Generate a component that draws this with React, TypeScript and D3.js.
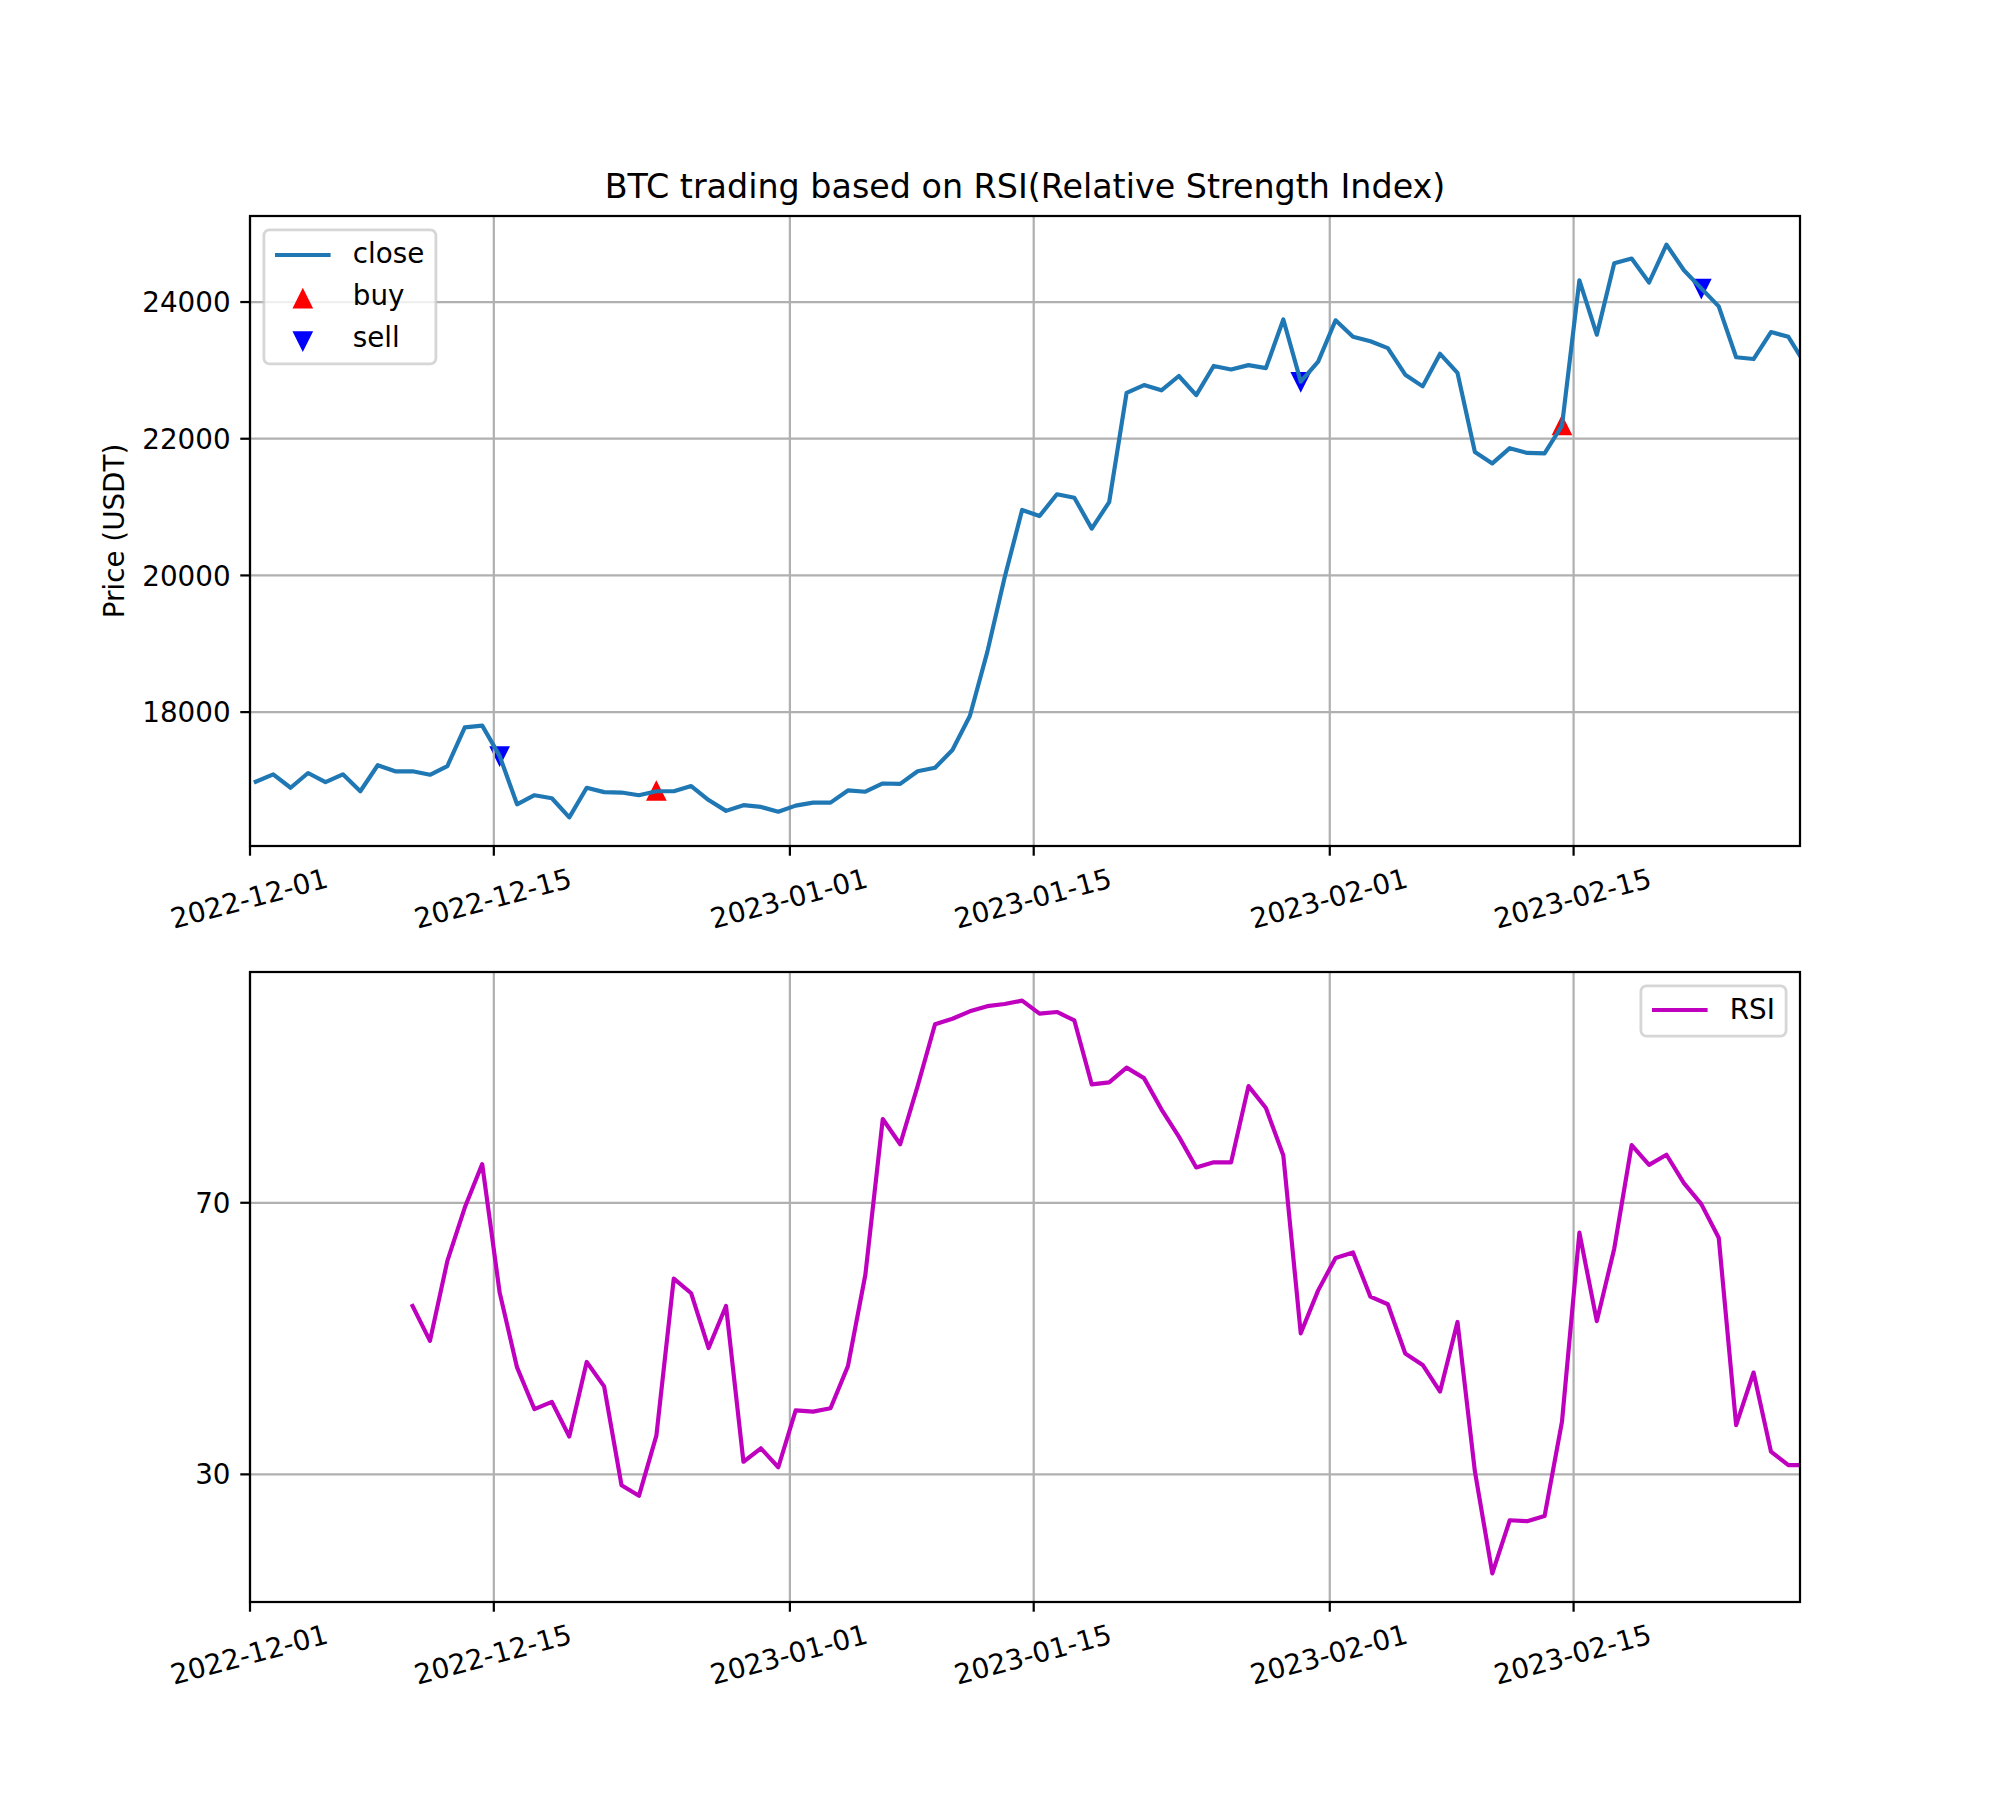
import React from 'react';
import * as d3 from 'd3';

// ---------- data ----------
const firstCandle = '2022-12-01T08:00:00Z';
const closeValues = [
  16982, 17090, 16893, 17109, 16975, 17090, 16842, 17223, 17134, 17134,
  17083, 17211, 17777, 17802, 17360, 16651, 16784, 16740, 16460, 16893,
  16829, 16823, 16784, 16842, 16842, 16918, 16714, 16555, 16638, 16613,
  16543, 16632, 16676, 16676, 16854, 16835, 16956, 16950, 17134, 17185,
  17446, 17942, 18878, 19972, 20958, 20869, 21188, 21137, 20685, 21073,
  22670, 22785, 22708, 22918, 22638, 23065, 23014, 23077, 23033, 23745,
  22836, 23128, 23733, 23491, 23427, 23326, 22937, 22766, 23243, 22963,
  21805, 21639, 21862, 21792, 21786, 22190, 24318, 23523, 24566, 24636,
  24286, 24840, 24465, 24200, 23936, 23192, 23166, 23561, 23491, 23077,
];
const rsiStartIndex = 9;
const rsiValues = [
  54.8, 49.66, 61.44, 69.3, 75.7, 56.8, 45.75, 39.6, 40.67, 35.58,
  46.56, 42.96, 28.39, 26.84, 35.7, 58.84, 56.67, 48.6, 54.8, 31.86,
  33.84, 31.05, 39.42, 39.24, 39.73, 45.94, 59.4, 82.34, 78.62, 87.18,
  96.3, 97.1, 98.2, 98.96, 99.27, 99.77, 97.85, 98.1, 96.85, 87.43,
  87.74, 89.9, 88.36, 83.77, 79.74, 75.2, 75.95, 75.95, 87.18, 83.95,
  76.95, 50.77, 57.1, 61.88, 62.68, 56.17, 55.05, 47.8, 46.12, 42.2,
  52.45, 30.43, 15.42, 23.24, 23.11, 23.86, 37.75, 65.6, 52.57, 63.24,
  78.5, 75.58, 77.07, 72.9, 69.8, 64.85, 37.25, 45.0, 33.35, 31.36, 31.36,
];
const buyIndices = [23, 75];
const sellIndices = [14, 60, 83];
const xTickLabels = ['2022-12-01', '2022-12-15', '2023-01-01', '2023-01-15', '2023-02-01', '2023-02-15'];
const xLimits = ['2022-12-01', '2023-02-28'];
const priceTicks = [18000, 20000, 22000, 24000];
const rsiTicks = [30, 70];

// ---------- layout ----------
const W = 2000;
const H = 1800;
const L = 250;
const R = 1800;
const TOP1 = 216;
const BOT1 = 846;
const TOP2 = 972;
const BOT2 = 1602;
const FS = 27.78;
const FONT = '"DejaVu Sans", sans-serif';
const TICK = 9.72;
const LW = 2.22;

const parseDay = (s: string) => new Date(s + 'T00:00:00Z');
const t0 = new Date(firstCandle);
const dates = closeValues.map((_, i) => d3.utcDay.offset(t0, i));

const x = d3.scaleUtc().domain(xLimits.map(parseDay)).range([L, R]);

function padded(vals: number[]): [number, number] {
  const [mn, mx] = d3.extent(vals) as [number, number];
  const p = (mx - mn) * 0.05;
  return [mn - p, mx + p];
}
const yP = d3.scaleLinear().domain(padded(closeValues)).range([BOT1, TOP1]);
const yR = d3.scaleLinear().domain(padded(rsiValues)).range([BOT2, TOP2]);

const closeLine = d3
  .line<number>()
  .x((_, i) => x(dates[i]))
  .y((v) => yP(v));
const rsiLine = d3
  .line<number>()
  .x((_, i) => x(dates[i + rsiStartIndex]))
  .y((v) => yR(v));

const MS = 8.33;
const upTri = `M0,${-MS}L${-MS},${MS}L${MS},${MS}Z`;
const downTri = `M0,${MS}L${-MS},${-MS}L${MS},${-MS}Z`;

const fmt = d3.utcFormat('%Y-%m-%d');

function XAxis({ top, bottom }: { top: number; bottom: number }) {
  const ticks = xTickLabels.map(parseDay);
  return (
    <g>
      {ticks.map((t, i) => {
        const px = x(t);
        return (
          <g key={i}>
            <line x1={px} x2={px} y1={top} y2={bottom} stroke="#b0b0b0" strokeWidth={LW} />
            <line x1={px} x2={px} y1={bottom} y2={bottom + TICK} stroke="#000" strokeWidth={LW} />
            <text
              transform={`translate(${px - 1},${bottom + 52}) rotate(-15)`}
              textAnchor="middle"
              dy="0.3645em"
              fontSize={FS}
              fontFamily={FONT}
              fill="#000"
            >
              {fmt(t)}
            </text>
          </g>
        );
      })}
    </g>
  );
}

function YAxis({ ticks, scale }: { ticks: number[]; scale: d3.ScaleLinear<number, number> }) {
  return (
    <g>
      {ticks.map((v, i) => {
        const py = scale(v);
        return (
          <g key={i}>
            <line x1={L} x2={R} y1={py} y2={py} stroke="#b0b0b0" strokeWidth={LW} />
            <line x1={L - TICK} x2={L} y1={py} y2={py} stroke="#000" strokeWidth={LW} />
            <text
              x={L - TICK - 9.72}
              y={py}
              dy="0.3645em"
              textAnchor="end"
              fontSize={FS}
              fontFamily={FONT}
              fill="#000"
            >
              {v}
            </text>
          </g>
        );
      })}
    </g>
  );
}

export default function App() {
  const pad = 11.1;
  const handleLen = 55.6;
  const textPad = 22.2;
  const rowH = 28;
  const rowGap = 13.9;

  // top legend
  const lg1x = L + 13.9;
  const lg1y = TOP1 + 13.9;
  const lg1w = 172;
  const rows1 = ['close', 'buy', 'sell'];
  const lg1h = pad * 2 + rows1.length * rowH + (rows1.length - 1) * rowGap;
  const rowCenter = (k: number) => lg1y + pad + rowH / 2 + k * (rowH + rowGap);

  // bottom legend
  const lg2w = 145.2;
  const lg2h = pad * 2 + rowH;
  const lg2x = R - 13.9 - lg2w;
  const lg2y = TOP2 + 13.9;

  return (
    <svg
      width={W}
      height={H}
      viewBox={`0 0 ${W} ${H}`}
      style={{ position: 'absolute', left: 0, top: 0, background: '#fff' }}
    >
      <defs>
        <clipPath id="clip1">
          <rect x={L} y={TOP1} width={R - L} height={BOT1 - TOP1} />
        </clipPath>
        <clipPath id="clip2">
          <rect x={L} y={TOP2} width={R - L} height={BOT2 - TOP2} />
        </clipPath>
      </defs>
      <rect x={0} y={0} width={W} height={H} fill="#fff" />

      {/* ---------- price panel ---------- */}
      <g clipPath="url(#clip1)">
        {buyIndices.map((i) => (
          <path
            key={'b' + i}
            d={upTri}
            transform={`translate(${x(dates[i])},${yP(closeValues[i])})`}
            fill="#ff0000"
            stroke="#ff0000"
            strokeWidth={2.5}
            strokeLinejoin="miter"
          />
        ))}
        {sellIndices.map((i) => (
          <path
            key={'s' + i}
            d={downTri}
            transform={`translate(${x(dates[i])},${yP(closeValues[i])})`}
            fill="#0000ff"
            stroke="#0000ff"
            strokeWidth={2.5}
          />
        ))}
      </g>
      <XAxis top={TOP1} bottom={BOT1} />
      <YAxis ticks={priceTicks} scale={yP} />
      <g clipPath="url(#clip1)">
        <path
          d={closeLine(closeValues) || ''}
          fill="none"
          stroke="#1f77b4"
          strokeWidth={4.17}
          strokeLinejoin="round"
          strokeLinecap="square"
        />
      </g>
      <rect x={L} y={TOP1} width={R - L} height={BOT1 - TOP1} fill="none" stroke="#000" strokeWidth={LW} />

      <text x={(L + R) / 2} y={197.5} textAnchor="middle" fontSize={33.33} fontFamily={FONT} fill="#000">
        BTC trading based on RSI(Relative Strength Index)
      </text>
      <text
        transform={`translate(123.5,${(TOP1 + BOT1) / 2}) rotate(-90)`}
        textAnchor="middle"
        fontSize={FS}
        fontFamily={FONT}
        fill="#000"
      >
        Price (USDT)
      </text>

      {/* top legend */}
      <g>
        <rect
          x={lg1x}
          y={lg1y}
          width={lg1w}
          height={lg1h}
          rx={5.6}
          ry={5.6}
          fill="#fff"
          fillOpacity={0.8}
          stroke="#cccccc"
          strokeOpacity={0.8}
          strokeWidth={2.78}
        />
        <line
          x1={lg1x + pad}
          x2={lg1x + pad + handleLen}
          y1={rowCenter(0)}
          y2={rowCenter(0)}
          stroke="#1f77b4"
          strokeWidth={4.17}
        />
        <path
          d={upTri}
          transform={`translate(${lg1x + pad + handleLen / 2},${rowCenter(1) + 2})`}
          fill="#ff0000"
          stroke="#ff0000"
          strokeWidth={2.5}
        />
        <path
          d={downTri}
          transform={`translate(${lg1x + pad + handleLen / 2},${rowCenter(2) + 2})`}
          fill="#0000ff"
          stroke="#0000ff"
          strokeWidth={2.5}
        />
        {rows1.map((t, k) => (
          <text
            key={t}
            x={lg1x + pad + handleLen + textPad}
            y={rowCenter(k) + 8}
            fontSize={FS}
            fontFamily={FONT}
            fill="#000"
          >
            {t}
          </text>
        ))}
      </g>

      {/* ---------- RSI panel ---------- */}
      <XAxis top={TOP2} bottom={BOT2} />
      <YAxis ticks={rsiTicks} scale={yR} />
      <g clipPath="url(#clip2)">
        <path
          d={rsiLine(rsiValues) || ''}
          fill="none"
          stroke="#bf00bf"
          strokeWidth={4.17}
          strokeLinejoin="round"
          strokeLinecap="square"
        />
      </g>
      <rect x={L} y={TOP2} width={R - L} height={BOT2 - TOP2} fill="none" stroke="#000" strokeWidth={LW} />

      <g>
        <rect
          x={lg2x}
          y={lg2y}
          width={lg2w}
          height={lg2h}
          rx={5.6}
          ry={5.6}
          fill="#fff"
          fillOpacity={0.8}
          stroke="#cccccc"
          strokeOpacity={0.8}
          strokeWidth={2.78}
        />
        <line
          x1={lg2x + pad}
          x2={lg2x + pad + handleLen}
          y1={lg2y + pad + rowH / 2 - 1}
          y2={lg2y + pad + rowH / 2 - 1}
          stroke="#bf00bf"
          strokeWidth={4.17}
        />
        <text
          x={lg2x + pad + handleLen + textPad}
          y={lg2y + pad + rowH / 2 + 8}
          fontSize={FS}
          fontFamily={FONT}
          fill="#000"
        >
          RSI
        </text>
      </g>
    </svg>
  );
}
